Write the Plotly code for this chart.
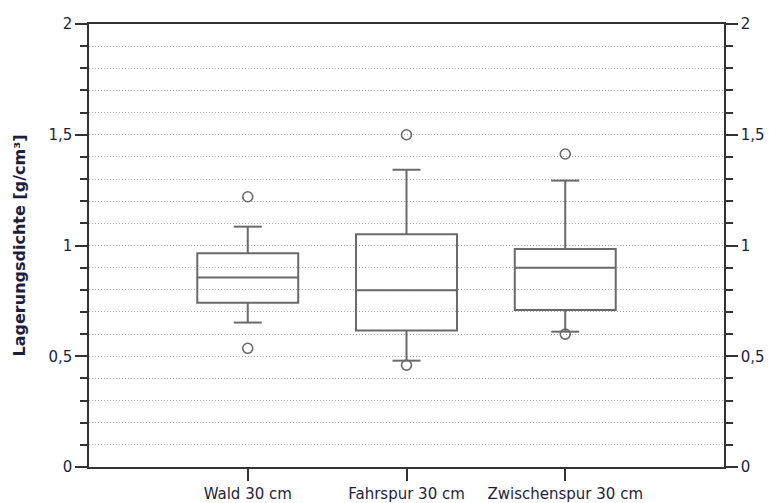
import plotly.graph_objects as go

categories = ["Wald 30 cm", "Fahrspur 30 cm", "Zwischenspur 30 cm"]
q1 = [0.742, 0.616, 0.709]
median = [0.855, 0.798, 0.900]
q3 = [0.965, 1.051, 0.984]
lower_whisker = [0.652, 0.480, 0.611]
upper_whisker = [1.085, 1.342, 1.293]
outlier_cats = ["Wald 30 cm", "Wald 30 cm", "Fahrspur 30 cm", "Fahrspur 30 cm",
                "Zwischenspur 30 cm", "Zwischenspur 30 cm"]
outlier_vals = [1.22, 0.536, 1.50, 0.46, 1.413, 0.60]

box_col = "#6a6a6a"
axis_col = "#333333"
text_col = "#1e1e3c"
grid_col = "#a8a8a8"
font_fam = "DejaVu Sans, Verdana, sans-serif"

fig = go.Figure()
fig.add_trace(go.Box(
    x=categories, q1=q1, median=median, q3=q3,
    lowerfence=lower_whisker, upperfence=upper_whisker,
    width=0.636,
    line=dict(color=box_col, width=2), fillcolor="rgba(0,0,0,0)",
    whiskerwidth=0, boxpoints=False, showlegend=False, hoverinfo="skip",
))
# whisker caps
fig.add_trace(go.Scatter(
    x=categories + categories, y=lower_whisker + upper_whisker, mode="markers",
    marker=dict(symbol="line-ew-open", size=20, color=box_col, line=dict(color=box_col, width=2)),
    showlegend=False, hoverinfo="skip",
))
# outliers
fig.add_trace(go.Scatter(
    x=outlier_cats, y=outlier_vals, mode="markers",
    marker=dict(symbol="circle-open", size=10, color=box_col, line=dict(color=box_col, width=1.6)),
    showlegend=False, hoverinfo="skip",
))
# dummy for right axis
fig.add_trace(go.Scatter(x=[categories[0]], y=[0], yaxis="y2", mode="markers",
                         marker=dict(opacity=0), showlegend=False, hoverinfo="skip"))

yax_common = dict(
    range=[0, 2], dtick=0.5, tick0=0, showline=True, linecolor=axis_col, linewidth=1.5,
    ticks="outside", ticklen=12, tickwidth=1.5, tickcolor=axis_col,
    tickfont=dict(family=font_fam, size=15, color=text_col),
    zeroline=False, automargin=False,
)

fig.update_layout(
    width=769, height=503,
    margin=dict(l=89, r=45, t=24, b=36),
    plot_bgcolor="white", paper_bgcolor="white",
    separators=",.",
    font=dict(family=font_fam, color=text_col),
    xaxis=dict(
        type="category", range=[-1, 3], showline=True, linecolor=axis_col, linewidth=1.5,
        mirror=True, ticks="outside", ticklen=12, tickwidth=1.5, tickcolor=axis_col,
        tickfont=dict(family=font_fam, size=15, color=text_col), showgrid=False,
        automargin=False,
    ),
    yaxis=dict(
        **yax_common, showgrid=True, gridcolor=grid_col, griddash="1px,2px", gridwidth=1,
        minor=dict(dtick=0.1, tick0=0, ticks="outside", ticklen=7, tickwidth=1.5, tickcolor=axis_col,
                   showgrid=True, gridcolor=grid_col, griddash="1px,2px", gridwidth=1),
        title=dict(text="<b>Lagerungsdichte [g/cm³]</b>",
                   font=dict(family=font_fam, size=16, color=text_col), standoff=19),
    ),
    yaxis2=dict(
        **yax_common, overlaying="y", side="right", showgrid=False,
        minor=dict(dtick=0.1, tick0=0, ticks="outside", ticklen=7, tickwidth=1.5, tickcolor=axis_col,
                   showgrid=False),
    ),
)

fig.write_html("out.html")
